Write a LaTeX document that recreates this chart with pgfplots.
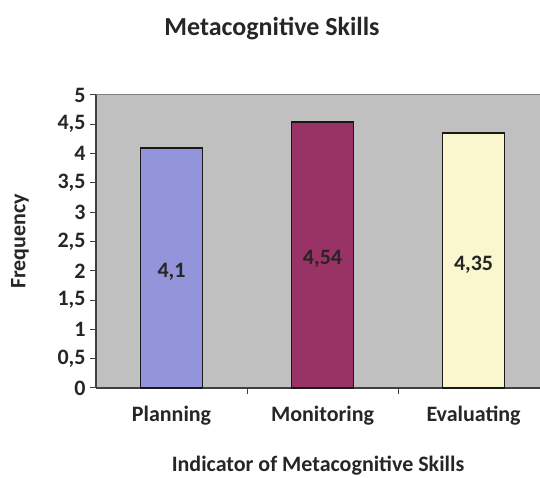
\documentclass[border=0pt]{standalone}
\usepackage{pgfplots}
\pgfplotsset{compat=1.18}
\usepackage{fontspec}
\setmainfont{Carlito}
\definecolor{bgG}{HTML}{C0C0C0}
\definecolor{planC}{HTML}{9494DA}
\definecolor{monC}{HTML}{993366}
\definecolor{evalC}{HTML}{FAF7CE}
\definecolor{axC}{HTML}{404040}
\begin{document}
\begin{tikzpicture}[x=1bp,y=1bp]
\useasboundingbox (0,0) rectangle (540,478);
\clip (0,0) rectangle (540,478);
\begin{axis}[
  at={(96bp,90bp)}, anchor=south west,
  scale only axis, width=444bp, height=293bp,
  xmin=-0.5, xmax=2.44, ymin=0, ymax=5,
  axis background/.style={fill=bgG},
  axis x line*=bottom, axis y line*=left,
  axis line style={axC, line width=1.2bp},
  ybar, bar width=62bp,
  xtick={0,1,2}, xticklabels={Planning,Monitoring,Evaluating},
  major x tick style={draw=none},
  minor xtick={0.5,1.5},
  minor x tick style={axC, line width=1bp},
  ytick={0,0.5,...,4.5},
  extra y ticks={5}, extra y tick labels={5},
  extra y tick style={grid=major, major grid style={gray, line width=1bp}},
  tick align=outside, major tick length=6bp, minor tick length=6bp,
  y tick style={axC, line width=1bp},
  /pgf/number format/use comma,
  /pgf/number format/assume math mode=true,
  tick label style={font=\fontsize{22bp}{26bp}\selectfont\bfseries, text=black!85},
  yticklabel style={xshift=-1bp},
  xticklabel style={yshift=-9bp},
  xlabel={Indicator of Metacognitive Skills},
  ylabel={Frequency},
  label style={font=\fontsize{22bp}{26bp}\selectfont\bfseries, text=black!85},
  xlabel style={at={(axis description cs:0.5,0)}, anchor=center, yshift=-78bp},
  ylabel style={at={(axis description cs:-0.171,0.5)}, anchor=center},
  nodes near coords,
  nodes near coords style={font=\fontsize{22bp}{26bp}\selectfont\bfseries, text=black!85, anchor=center, yshift=-4bp, /pgf/number format/use comma},
  visualization depends on=rawy \as \rawy,
  every node near coord/.append style={shift={(axis direction cs:0,-\rawy/2)}},
  clip=false,
]
\addplot[fill=planC, draw=black!90, line width=1.6bp, bar shift=0pt] coordinates {(0,4.1)};
\addplot[fill=monC, draw=black!90, line width=1.6bp, bar shift=0pt] coordinates {(1,4.54)};
\addplot[fill=evalC, draw=black!90, line width=1.6bp, bar shift=0pt] coordinates {(2,4.35)};
\end{axis}
\node[font=\fontsize{26bp}{30bp}\selectfont\bfseries, text=black!85] at (272,449) {Metacognitive Skills};
\end{tikzpicture}
\end{document}
